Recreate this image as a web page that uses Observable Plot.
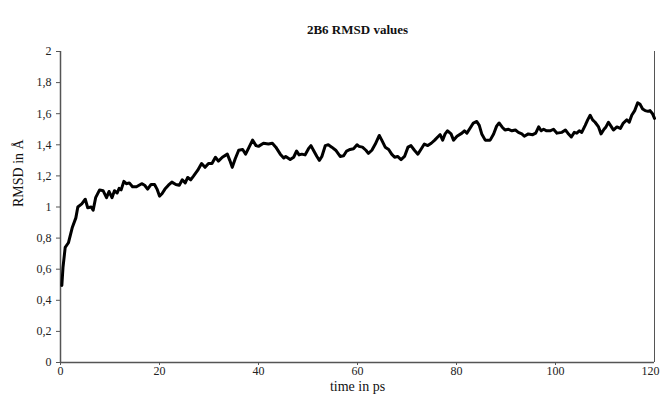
<!DOCTYPE html>
<html>
<head>
<meta charset="utf-8">
<script src="https://cdn.jsdelivr.net/npm/d3@7"></script>
<script src="https://cdn.jsdelivr.net/npm/@observablehq/plot@0.6"></script>
<style>
  html, body { margin: 0; padding: 0; background: #fff; }
  #chart svg, #chart svg text, #chart svg g { font-family: "Liberation Serif", "DejaVu Serif", serif !important; }
</style>
</head>
<body>
<div id="chart"></div>
<script>
const title = "2B6 RMSD values";
const xLabel = "time in ps";
const yLabel = "RMSD in Å";
const xTicks = [0, 20, 40, 60, 80, 100, 120];
const yTicks = [0, 0.2, 0.4, 0.6, 0.8, 1, 1.2, 1.4, 1.6, 1.8, 2];

const time = [
  0.27, 0.5, 0.95, 1.6, 2.4, 3.1, 3.5, 4.3, 5.0, 5.5, 6.2, 6.6, 7.1, 7.9, 8.6, 9.3, 9.8, 10.4, 10.9, 11.45,
  11.85, 12.25, 12.8, 13.3, 13.9, 14.55, 15.35, 16.4, 17.0, 17.6, 18.3, 19.0, 19.5, 20.0,
  20.5, 21.1, 21.8, 22.5, 23.3, 24.0, 24.6, 25.2, 25.7, 26.3, 26.9, 27.7, 28.5, 29.2, 29.9, 30.6,
  31.3, 31.9, 32.7, 33.7, 34.2, 34.7, 35.3, 36.0, 36.8, 37.4, 38.1, 38.8, 39.5, 40.0,
  41.0, 42.0, 42.8, 43.5, 44.4, 45.1, 45.5, 46.4, 47.1, 47.7, 48.2, 48.75, 49.4, 50.1, 50.6, 51.1,
  51.8, 52.3, 52.8, 53.5, 54.1, 54.8, 55.6, 56.5, 57.2, 57.8, 58.5, 59.2, 59.9, 60.3,
  61.0, 61.7, 62.2, 62.9, 63.6, 64.4, 64.9, 65.6, 66.3, 66.9, 67.5, 68.1, 68.8, 69.5, 70.2, 70.8,
  71.5, 72.2, 72.9, 73.5, 74.2, 74.9, 75.6, 76.2, 76.7, 77.2, 77.7, 78.2, 78.9, 79.4, 80.1,
  81.1, 81.6, 82.1, 82.8, 83.4, 84.1, 84.6, 85.1, 85.8, 86.8, 87.5, 88.1, 88.6, 89.2, 89.8, 90.5,
  91.2, 91.9, 92.5, 93.2, 93.7, 94.5, 95.4, 96.0, 96.6, 97.1, 97.6, 98.2, 98.9, 99.6, 100.3,
  101.3, 102.0, 102.5, 103.2, 103.8, 104.3, 104.8, 105.3, 106.0, 106.5, 107.0, 107.5, 108.0, 108.7,
  109.2, 109.8, 110.2, 110.7, 111.3, 111.7, 112.4, 113.1, 113.7, 114.4, 114.9, 115.4, 116.0, 116.6,
  117.1, 117.6, 118.1, 118.7, 119.1, 119.6, 120.0
];
const rmsd = [
  0.495, 0.61, 0.74, 0.77, 0.87, 0.93, 1.00, 1.02, 1.05, 0.995, 1.0, 0.98, 1.06, 1.11, 1.105, 1.06, 1.10, 1.06, 1.105, 1.09,
  1.12, 1.11, 1.165, 1.15, 1.155, 1.13, 1.13, 1.15, 1.14, 1.115, 1.145, 1.145, 1.115, 1.07,
  1.085, 1.115, 1.14, 1.16, 1.145, 1.14, 1.175, 1.155, 1.19, 1.175, 1.20, 1.235, 1.28, 1.255, 1.28, 1.28,
  1.32, 1.295, 1.32, 1.34, 1.30, 1.255, 1.31, 1.365, 1.37, 1.34, 1.385, 1.43, 1.395, 1.39,
  1.41, 1.405, 1.41, 1.385, 1.34, 1.315, 1.325, 1.305, 1.32, 1.36, 1.335, 1.34, 1.335, 1.375, 1.395, 1.365,
  1.325, 1.30, 1.325, 1.395, 1.40, 1.385, 1.365, 1.325, 1.33, 1.36, 1.37, 1.375, 1.40, 1.39,
  1.385, 1.365, 1.345, 1.365, 1.405, 1.46, 1.43, 1.385, 1.37, 1.34, 1.32, 1.325, 1.305, 1.325, 1.385, 1.395,
  1.365, 1.34, 1.375, 1.405, 1.395, 1.41, 1.43, 1.45, 1.465, 1.43, 1.47, 1.49, 1.47, 1.43, 1.455,
  1.475, 1.49, 1.475, 1.51, 1.54, 1.55, 1.525, 1.47, 1.43, 1.43, 1.47, 1.52, 1.54, 1.515, 1.495, 1.50,
  1.49, 1.495, 1.48, 1.47, 1.455, 1.47, 1.465, 1.475, 1.515, 1.49, 1.50, 1.49, 1.49, 1.50, 1.475,
  1.48, 1.495, 1.475, 1.45, 1.48, 1.475, 1.49, 1.48, 1.525, 1.56, 1.59, 1.56, 1.545, 1.515,
  1.47, 1.50, 1.515, 1.545, 1.515, 1.495, 1.515, 1.505, 1.54, 1.56, 1.545, 1.59, 1.62, 1.67,
  1.66, 1.63, 1.62, 1.615, 1.62, 1.60, 1.57
];

const data = time.map((t, i) => ({t, v: rmsd[i]}));
const fmt = d => String(d).replace(".", ",");
const lastX = xTicks[xTicks.length - 1];

const chart = Plot.plot({
  width: 660,
  height: 397,
  marginLeft: 60,
  marginRight: 6,
  marginTop: 51,
  marginBottom: 35,
  style: {fontFamily: "Liberation Serif, serif", fontSize: "12px", color: "#222", background: "#fff"},
  x: {domain: [0, 120]},
  y: {domain: [0, 2]},
  marks: [
    Plot.axisX({ticks: xTicks.slice(0, -1), tickFormat: fmt, tickSize: 3, tickPadding: 1, label: null, stroke: "#555", fontSize: 12}),
    Plot.tickX([lastX], {x: d => d, y1: 0, y2: 0, dy: 0, stroke: "#555", insetTop: 0}),
    Plot.axisX({ticks: [lastX], tickFormat: fmt, tickSize: 0, tickPadding: 4, dx: -4, label: null, fontSize: 12}),
    Plot.axisY({ticks: yTicks, tickFormat: fmt, tickSize: 4, tickPadding: 5, label: null, stroke: "#555", fontSize: 12}),
    Plot.ruleY([0], {stroke: "#555", strokeWidth: 1.5}),
    Plot.ruleX([0], {stroke: "#555", strokeWidth: 1.5}),
    Plot.line(data, {x: "t", y: "v", stroke: "#000", strokeWidth: 3, strokeLinejoin: "round"}),
    Plot.text([title], {frameAnchor: "top", dy: -27, fontWeight: "bold", fontSize: 13, fill: "#111"}),
    Plot.text([xLabel], {frameAnchor: "bottom", dy: 28, fontSize: 14, fill: "#111"}),
    Plot.text([yLabel], {frameAnchor: "left", dx: -42, rotate: -90, fontSize: 14, fill: "#111"})
  ]
});
document.getElementById("chart").append(chart);
</script>
</body>
</html>
